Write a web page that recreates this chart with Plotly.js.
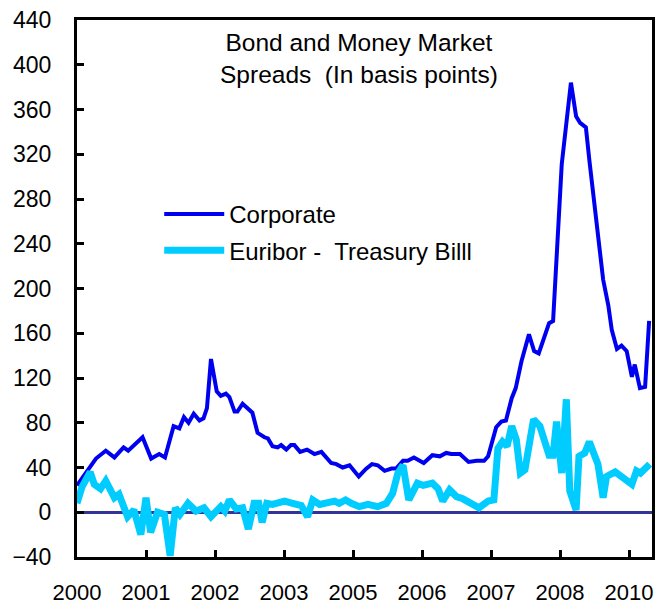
<!DOCTYPE html>
<html>
<head>
<meta charset="utf-8">
<script src="https://cdn.plot.ly/plotly-3.0.1.min.js"></script>
<style>
  html, body { margin: 0; padding: 0; background: #fff; }
  #chart { width: 663px; height: 604px; }
</style>
</head>
<body>
<div id="chart"></div>
<script>
// months since Jan 2000, spreads in basis points
const corpX = [0, 3.3, 5.0, 6.5, 8.1, 8.9, 11.4, 12.9, 14.3, 15.3, 16.8, 17.8, 18.6, 19.4, 20.3, 21.3, 22.0, 22.6, 23.3,
  24.3, 25.0, 25.9, 26.5, 27.4, 27.9, 28.8, 30.5, 31.4, 32.6, 33.2, 34.0, 34.9, 35.5, 36.4, 37.2, 37.8, 38.8, 40.0,
  41.3, 42.5, 44.2, 45.1, 46.2, 47.4, 49.0, 50.3, 51.3, 52.3, 53.5, 54.7, 55.5, 56.7, 57.5, 58.6, 60.3, 61.8, 63.1,
  64.2, 65.1, 66.6, 68.1, 69.5, 70.8, 71.5, 72.9, 73.8, 74.6, 75.6, 76.3, 77.3, 78.6, 79.5, 80.3, 81.2, 82.1, 82.8,
  84.3, 85.9, 86.8, 87.5, 88.5, 89.1, 90.4, 91.5, 92.4, 93.0, 93.9, 94.7, 95.6, 96.5, 97.0, 97.9, 98.8, 99.5];
const corporate = [24, 48, 55, 49, 58, 55, 67, 48, 52, 49, 77, 75, 85, 80, 88, 82, 84, 93, 137,
  108, 104, 106, 103, 90, 90, 97, 89, 71, 67, 66, 59, 58, 60, 56, 60, 60, 54, 56,
  52, 54, 44, 43, 40, 42, 32, 39, 43, 42, 37, 39, 39, 46, 46, 49, 44, 51, 50,
  53, 52, 52, 45, 46, 46, 50, 76, 81, 82, 102, 111, 135, 159, 144, 142, 155, 169, 171,
  311, 384, 354, 348, 344, 315, 258, 208, 185, 163, 146, 149, 144, 121, 132, 111, 112, 171];

const euriborX = [0, 0.9, 2.3, 3.0, 4.1, 5.0, 6.5, 7.3, 8.8, 9.9, 11.1, 12.0, 12.8, 14.0, 15.2, 16.2, 17.1, 17.9,
  19.3, 20.7, 22.1, 23.3, 25.0, 25.7, 26.5, 27.7, 28.8, 29.8, 30.8, 31.6, 32.2, 33.0, 34.0, 34.9, 36.1, 37.5, 39.0,
  40.1, 41.0, 42.2, 43.3, 44.8, 45.6, 46.7, 47.7, 49.1, 50.6, 52.3, 53.8, 54.9, 55.8, 56.7, 57.7, 59.2, 60.2, 61.8,
  62.8, 63.6, 64.8, 66.0, 67.1, 68.3, 69.9, 71.5, 72.5, 73.2, 74.0, 74.8, 75.6, 76.4, 77.1, 77.9, 79.4, 80.5, 82.1,
  82.8, 83.4, 84.3, 85.1, 85.7, 86.8, 87.3, 88.3, 89.1, 90.1, 90.6, 91.5, 92.1, 93.6, 94.7, 96.5, 97.3, 98.0, 99.6];
const euribor = [8, 23, 36, 25, 21, 28, 13, 16, -4, 2, -20, 13, -18, 0, -2, -39, 4, -2,
  8, 1, 4, -4, 5, 1, 11, 3, 4, -15, 8, 8, -9, 8, 7, 8, 10, 8, 6,
  -4, 11, 7, 8, 10, 8, 11, 8, 5, 7, 5, 8, 17, 35, 42, 11, 26, 24, 26,
  21, 10, 20, 14, 12, 8, 4, 10, 11, 57, 63, 59, 77, 65, 35, 38, 83, 77, 51,
  51, 81, 35, 101, 19, 2, 50, 53, 63, 49, 43, 13, 32, 36, 32, 25, 37, 35, 43];

const tickPos = [0, 12, 24, 36, 48, 60, 72, 84, 96];
const tickLabels = ["2000", "2001", "2002", "2003", "2005", "2006", "2007", "2008", "2010"];

const font = "Liberation Sans, Arial, sans-serif";

const traces = [
  {
    x: corpX, y: corporate, type: "scatter", mode: "lines",
    name: "Corporate", legendgroup: "a",
    line: { color: "#0000f0", width: 4 }
  },
  {
    x: euriborX, y: euribor, type: "scatter", mode: "lines",
    name: "Euribor -  Treasury Billl", legendgroup: "b",
    line: { color: "#00ccff", width: 7 }
  }
];

const layout = {
  width: 663, height: 604,
  margin: { l: 77, r: 11, t: 20, b: 47 },
  paper_bgcolor: "#fff", plot_bgcolor: "#fff",
  font: { family: font, size: 22, color: "#000" },
  showlegend: true,
  legend: {
    x: 0.143, y: 0.68, xanchor: "left", yanchor: "top",
    bgcolor: "rgba(0,0,0,0)", font: { size: 24, color: "#000" },
    tracegroupgap: 2, itemwidth: 60
  },
  xaxis: {
    range: [0, 100], tickvals: tickPos, ticktext: tickLabels,
    ticks: "inside", ticklen: 7, tickwidth: 3, tickcolor: "#000",
    showline: true, linewidth: 3, linecolor: "#000", mirror: true,
    showgrid: false, zeroline: false, ticklabelstandoff: 14,
    tickfont: { size: 22 }
  },
  yaxis: {
    range: [-40, 440], dtick: 40, tick0: 0,
    ticks: "inside", ticklen: 7, tickwidth: 3, tickcolor: "#000",
    showline: true, linewidth: 3, linecolor: "#000", mirror: true,
    showgrid: false, zeroline: true, zerolinecolor: "#333399", zerolinewidth: 3,
    layer: "above traces", ticklabelstandoff: 18,
    tickfont: { size: 23 }
  },
  annotations: [{
    xref: "paper", yref: "paper", x: 0.49, y: 0.987, xanchor: "center", yanchor: "top",
    text: "Bond and Money Market<br>Spreads  (In basis points)", showarrow: false,
    font: { size: 24.5, color: "#000" }
  }]
};

Plotly.newPlot("chart", traces, layout, { displayModeBar: false, staticPlot: true });
</script>
</body>
</html>
